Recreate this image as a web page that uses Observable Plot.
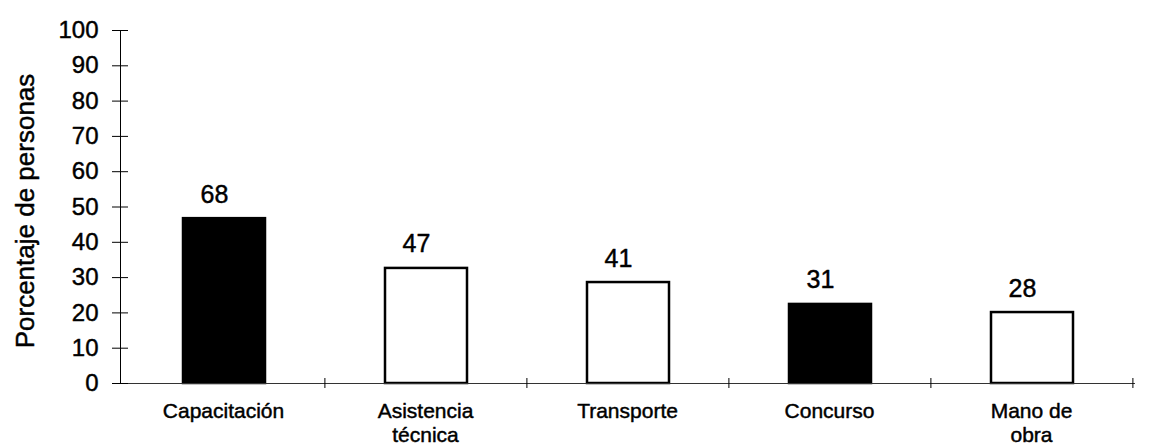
<!DOCTYPE html>
<html>
<head>
<meta charset="utf-8">
<script src="https://cdn.jsdelivr.net/npm/d3@7"></script>
<script src="https://cdn.jsdelivr.net/npm/@observablehq/plot@0.6"></script>
<style>
  html, body { margin: 0; padding: 0; background: #ffffff; }
  #chart svg { display: block; }
</style>
</head>
<body>
<div id="chart"></div>
<script>
const categories = ["Capacitación", "Asistencia\ntécnica", "Transporte", "Concurso", "Mano de\nobra"];
const barHeights = [46.7, 32.6, 28.6, 22.4, 20.1];
const barLabels = ["68", "47", "41", "31", "28"];
const barFills = ["black", "white", "white", "black", "white"];
const yTicks = [0, 10, 20, 30, 40, 50, 60, 70, 80, 90, 100];
const yTitle = "Porcentaje de personas";

const data = categories.map((c, i) => ({cat: c, h: barHeights[i], lab: barLabels[i], fill: barFills[i]}));

const W = 1159, H = 445, mL = 120, mR = 25, mT = 30, mB = 62;
const step = (W - mL - mR) / categories.length;
const heavy = {stroke: "black", strokeWidth: 0.45};
const heavyAxis = {textStroke: "black", textStrokeWidth: 0.45};

const chart = Plot.plot({
  width: W, height: H,
  marginLeft: mL, marginRight: mR, marginTop: mT, marginBottom: mB,
  style: {fontFamily: "'Liberation Sans', Arial, sans-serif", background: "white", color: "black"},
  x: {domain: categories, padding: 0, label: null},
  y: {domain: [0, 100], label: null},
  marks: [
    Plot.barY(data, {x: "cat", y: "h", fill: "fill", stroke: "black", strokeWidth: 2.5, insetLeft: 61, insetRight: 59}),
    Plot.text(data, {x: "cat", y: "h", text: "lab", fontSize: 25, lineAnchor: "bottom", dy: -16, dx: -9, fill: "black", ...heavy}),
    Plot.frame({anchor: "left", stroke: "black", strokeWidth: 1}),
    Plot.frame({anchor: "bottom", stroke: "#333", strokeWidth: 1}),
    Plot.axisY({ticks: yTicks, tickSize: 16, dx: 8, text: null, label: null, stroke: "black"}),
    Plot.axisY({ticks: yTicks, tickSize: 0, tickPadding: 22, label: null, fontSize: 24, fill: "black", ...heavyAxis}),
    Plot.axisX({tickSize: 10, dy: -5, dx: step / 2, text: null, label: null, stroke: "black"}),
    Plot.axisX({tickSize: 0, tickPadding: 17, label: null, fontSize: 21, lineHeight: 1.15, fill: "black", ...heavyAxis}),
    Plot.text([yTitle], {frameAnchor: "left", textAnchor: "middle", rotate: -90, dx: -95, dy: 4, fontSize: 26, fill: "black", ...heavy})
  ]
});
document.getElementById("chart").appendChild(chart);
</script>
</body>
</html>
